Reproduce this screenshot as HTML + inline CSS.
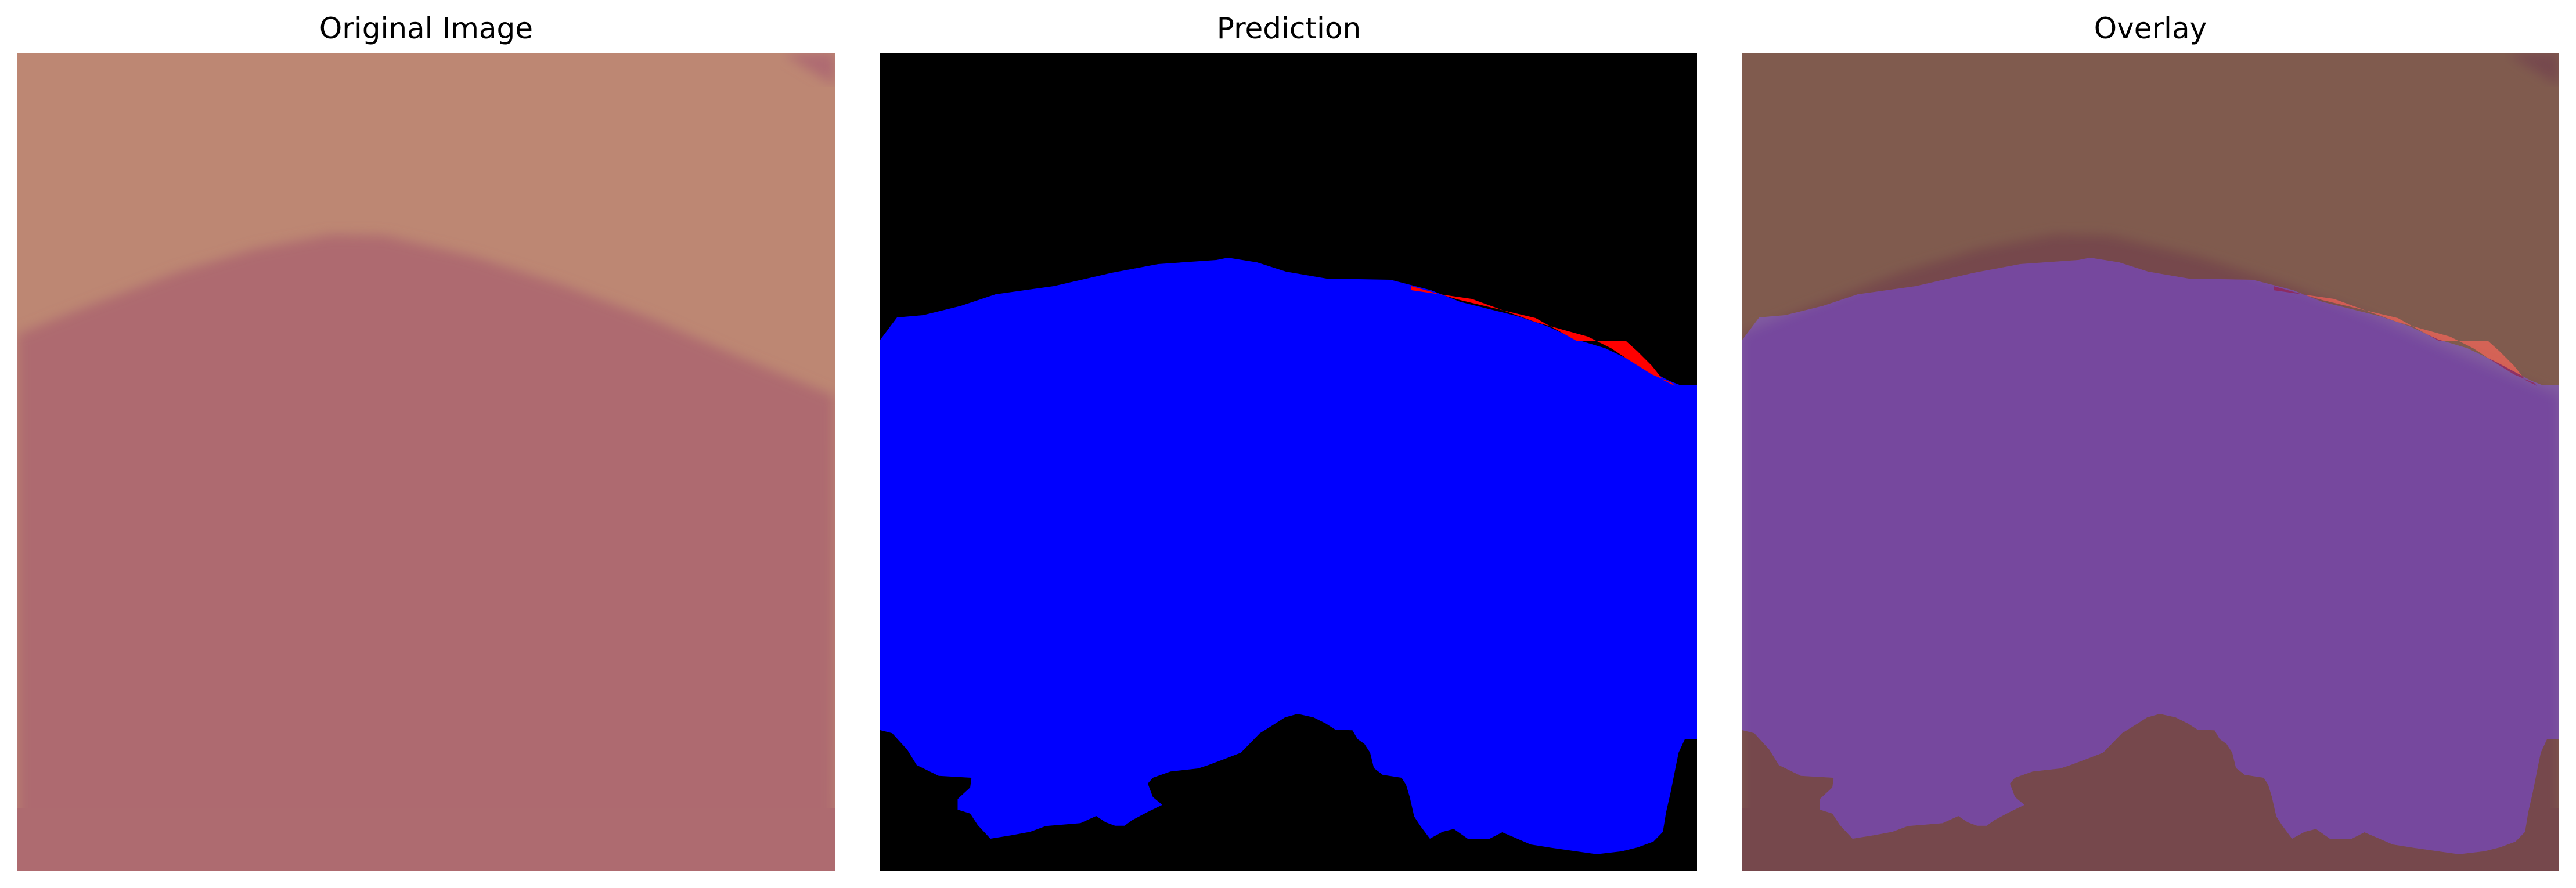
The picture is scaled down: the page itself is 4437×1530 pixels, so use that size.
<!DOCTYPE html>
<html><head><meta charset="utf-8"><style>
html,body{margin:0;padding:0;background:#fff;width:4437px;height:1530px;overflow:hidden}
svg{display:block}
text{font-family:"DejaVu Sans","Liberation Sans",sans-serif;font-size:50px;fill:#000}
</style></head><body>
<svg id="fig" width="4437" height="1530" viewBox="0 0 4437 1530" xmlns="http://www.w3.org/2000/svg">
<defs>
<filter id="soft" x="-5%" y="-5%" width="110%" height="110%"><feGaussianBlur stdDeviation="10"/></filter>
<clipPath id="pc"><rect x="0" y="0" width="1408" height="1408"/></clipPath>
</defs>
<text x="734" y="66" text-anchor="middle">Original Image</text>
<text x="2220" y="66" text-anchor="middle">Prediction</text>
<text x="3704" y="66" text-anchor="middle">Overlay</text>
<g id="p1" transform="translate(30,92)" clip-path="url(#pc)"></g>
<g id="p2" transform="translate(1515,92)" clip-path="url(#pc)"></g>
<g id="p3" transform="translate(3000,92)" clip-path="url(#pc)"></g>
</svg>
<script>
const NS="http://www.w3.org/2000/svg";
const pinkEdge=[[0,484],[123,435],[276,377],[409,337],[541,312],[633,314],[786,350],[939,399],[1092,457],[1246,524],[1407,590]];
const cornerPink=[[1318,0],[1408,0],[1408,55]];
const blueTop=[[0,495],[30,455],[75,451],[140,435],[200,415],[300,401],[400,378],[480,363],[580,356],[600,352],[650,360],[700,376],[770,388],[880,390],[950,408],[1000,428],[1100,453],[1150,470],[1200,493],[1250,508],[1300,532],[1360,564],[1380,572],[1408,572]];
const blueBottomZ=[[1405,520],[1385,520],[1375,590],[1370,670],[1362,800],[1355,900],[1350,1000],[1335,1050],[1310,1080],[1285,1100],[1245,1115],[1212,1100],[1175,1083],[1140,1065],[1115,1030],[1095,1002],[1075,1035],[1040,1035],[1018,985],[1000,1000],[980,1035],[965,970],[955,920],[948,820],[942,755],[935,720],[905,705],[891,670],[885,590],[876,545],[865,520],[857,475],[830,472],[815,440],[795,408],[770,390],[750,408],[725,460],[710,490],[695,540],[680,590],[655,622],[628,655],[612,672],[568,688],[540,720],[532,750],[540,820],[555,860],[530,900],[507,940],[495,968],[480,968],[465,950],[450,918],[425,955],[370,970],[345,1000],[315,1018],[282,1035],[262,965],[250,905],[230,885],[230,830],[250,770],[252,720],[200,710],[165,655],[150,575],[126,490],[106,473]];
const redPoly=[[916,401],[1000,425],[1130,456],[1200,495],[1285,495],[1305,513],[1330,538],[1350,563],[1370,573],[1365,568],[1330,553],[1290,528],[1260,508],[1220,488],[1130,463],[1020,423],[916,408]];
const blueBottom=blueBottomZ.map(p=>[Math.min(1408,Math.max(0,1400+p[0]/0.922-1515)),1100+p[1]/3-92]);
const blueShape=blueTop.concat(blueBottom);
function pts(a){return a.map(p=>p[0].toFixed(1)+","+p[1].toFixed(1)).join(" ");}
function sub(a){return "M"+a.map(p=>p[0].toFixed(1)+" "+p[1].toFixed(1)).join(" L")+" Z ";}
function rect(g,fill,name,op){const r=document.createElementNS(NS,"rect");r.setAttribute("width",1408);r.setAttribute("height",1408);r.setAttribute("fill",fill);if(op!=null)r.setAttribute("opacity",op);


g.appendChild(r);return r;}
function poly(g,a,fill,name,op,filt){const p=document.createElementNS(NS,"polygon");p.setAttribute("points",pts(a));p.setAttribute("fill",fill);if(op!=null)p.setAttribute("opacity",op);if(filt)p.setAttribute("filter",filt);


g.appendChild(p);return p;}
function drawImage(g){
  rect(g,"#bd8773","image-background");
  poly(g,pinkEdge.concat([[1408,1408],[0,1408]]),"#ae6b70","image-pink-region",null,"url(#soft)");
  poly(g,[[0,1300],[1408,1300],[1408,1450],[0,1450]],"#ae6b70","image-bottom");
  poly(g,cornerPink,"#ae6b72","image-corner",null,"url(#soft)");
}
const p1=document.getElementById("p1"),p2=document.getElementById("p2"),p3=document.getElementById("p3");
drawImage(p1);
rect(p2,"#000000","prediction-background");
poly(p2,blueShape,"#0000ff","prediction-blue-mask");
poly(p2,redPoly,"#ff0000","prediction-red-mask");
drawImage(p3);
const dim=document.createElementNS(NS,"path");
dim.setAttribute("d",sub([[0,0],[1408,0],[1408,1408],[0,1408]])+sub(blueShape)+sub(redPoly));
dim.setAttribute("fill-rule","evenodd");
dim.setAttribute("fill","#000");
dim.setAttribute("opacity","0.32");


p3.appendChild(dim);
poly(p3,blueShape,"#0000ff","overlay-blue-mask",0.32);
poly(p3,redPoly,"#ff2020","overlay-red-mask",0.35);
</script>
</body></html>
